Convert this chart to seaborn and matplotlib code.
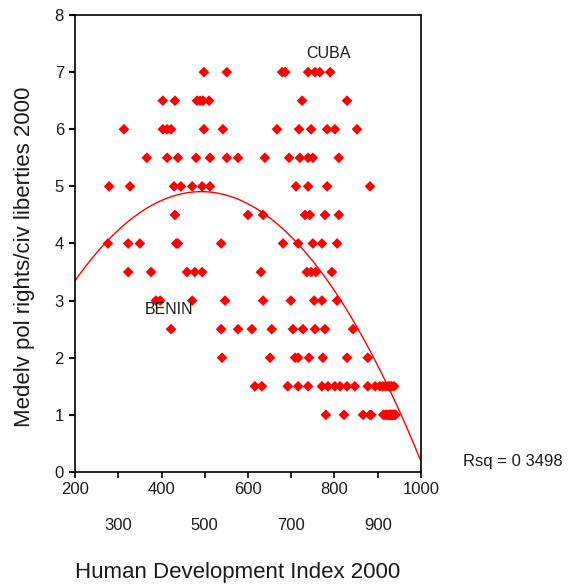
import matplotlib
matplotlib.use("Agg")
import pandas as pd
import matplotlib.pyplot as plt
import seaborn as sns

# Human Development Index 2000 (x) and mean political rights / civ liberties 2000 (y),
# read off the picture row by row; the dense clusters at the high-HDI end hide
# several overlapping countries, so those spots are repeated
hdi_2000 = [
    498, 551, 679, 686, 739, 755, 766, 790,                                   # 7.0
    403, 431, 482, 489, 496, 510, 725, 829,                                   # 6.5
    313, 403, 413, 422, 498, 542, 667, 718, 746, 783, 801, 852,               # 6.0
    366, 413, 438, 480, 512, 551, 577, 639, 695, 720, 739, 750, 810,          # 5.5
    279, 327, 429, 445, 471, 494, 512, 711, 739, 783, 882,                    # 5.0
    431, 600, 635, 732, 743, 778, 810,                                        # 4.5
    276, 323, 350, 434, 438, 538, 681, 716, 750, 771, 806,                    # 4.0
    323, 376, 459, 477, 494, 630, 736, 746, 757, 794,                         # 3.5
    387, 397, 471, 547, 635, 699, 753, 771, 806,                              # 3.0
    422, 538, 577, 609, 655, 704, 727, 755, 778, 843,                         # 2.5
    540, 651, 709, 716, 741, 773, 829, 877,                                   # 2.0
    616, 632, 692, 716, 739, 771, 785, 801, 813, 829, 847, 877, 894, 912, 928, 938,
    905, 918, 924, 932,                                                       # 1.5
    780, 822, 866, 882, 917, 928, 938,
    920, 924, 926, 930, 932, 934, 936, 939, 941, 921, 913, 885,               # 1.0
]
row_levels = [7.0, 6.5, 6.0, 5.5, 5.0, 4.5, 4.0, 3.5, 3.0, 2.5, 2.0, 1.5, 1.0]
row_counts = [8, 8, 12, 13, 11, 7, 11, 10, 9, 10, 8, 20, 19]
pol_rights = [lvl for lvl, n in zip(row_levels, row_counts) for _ in range(n)]

major_ticks = [200, 400, 600, 800, 1000]
major_labels = ["200", "400", "600", "800", "1000"]
minor_ticks = [300, 500, 700, 900]
minor_labels = ["300", "500", "700", "900"]
y_ticks = [0, 1, 2, 3, 4, 5, 6, 7, 8]

annotations = [("CUBA", 785, 7.32), ("BENIN", 417, 2.84)]
rsq_text = "Rsq = 0 3498"

df = pd.DataFrame({"hdi": hdi_2000, "rights": pol_rights})

sns.set_theme(style="white")
plt.rcParams["font.family"] = ["Liberation Sans", "DejaVu Sans"]
text_color = "#1a1a1a"

fig = plt.figure(figsize=(5.74, 5.87), dpi=100)
ax = fig.add_axes([0.1307, 0.196, 0.6027, 0.7784])
ax.set_xlim(200, 1000)
ax.set_ylim(0, 8)

sns.scatterplot(data=df, x="hdi", y="rights", marker="D", s=30, color="#ff0000",
                edgecolor="none", linewidth=0, ax=ax, zorder=3)
sns.regplot(data=df, x="hdi", y="rights", order=2, ci=None, truncate=False,
            scatter=False, color="#ff0000", line_kws={"linewidth": 1.0}, ax=ax)
ax.set_xlim(200, 1000)
ax.set_ylim(0, 8)

# staggered x tick labels
ax.set_xticks(major_ticks)
ax.set_xticklabels(major_labels)
ax.set_xticks(minor_ticks, minor=True)
ax.set_xticklabels(minor_labels, minor=True)
ax.tick_params(axis="x", which="both", bottom=True, direction="out", length=4,
               width=1.2, color="black", labelsize=12, labelcolor=text_color)
ax.tick_params(axis="x", which="major", pad=3.5)
ax.tick_params(axis="x", which="minor", pad=29.5)

ax.set_yticks(y_ticks)
ax.tick_params(axis="y", left=True, direction="out", length=4, width=1.5,
               color="black", labelsize=12, labelcolor=text_color, pad=4)

for sp in ax.spines.values():
    sp.set_visible(True)
    sp.set_color("black")
    sp.set_linewidth(1.2)

ax.set_xlabel("Human Development Index 2000", fontsize=16, color=text_color)
ax.set_ylabel("Medelv pol rights/civ liberties 2000", fontsize=16, color=text_color)
ax.xaxis.set_label_coords(0.471, -0.197)
ax.yaxis.set_label_coords(-0.115, 0.47)

for name, xv, yv in annotations:
    ax.text(xv, yv, name, ha="center", va="center", fontsize=11.5, color=text_color)

fig.text(0.807, 0.213, rsq_text, fontsize=12, ha="left", va="center", color=text_color)

fig.savefig("out.png", dpi=100)
